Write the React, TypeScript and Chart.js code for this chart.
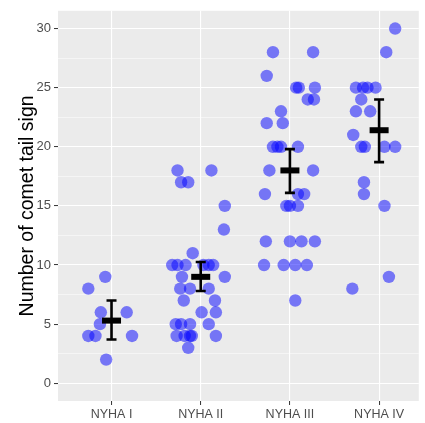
import React, { useEffect, useRef } from "react";
import { Chart, registerables } from "chart.js";

Chart.register(...registerables);

const categories = ["NYHA I", "NYHA II", "NYHA III", "NYHA IV"];

const nyha1Values = [9, 8, 6, 6, 5, 4, 4, 4, 2];
const nyha1Jitter = [-0.07, -0.26, -0.12, 0.17, -0.13, -0.26, -0.18, 0.23, -0.06];

const nyha2Values = [18, 18, 17, 17, 15, 13, 11, 10, 10, 10, 10, 10, 10, 9, 9, 8, 8, 8, 7, 7, 6, 6, 5, 5, 5, 5, 4, 4, 4, 4, 4, 3];
const nyha2Jitter = [-0.26, 0.12, -0.22, -0.14, 0.27, 0.26, -0.09, -0.32, -0.26, -0.17, 0.03, 0.09, 0.14, -0.21, 0.27, -0.23, -0.12, 0.09, -0.19, 0.16, 0.01, 0.17, -0.28, -0.22, -0.12, 0.09, -0.27, -0.18, -0.12, -0.1, 0.17, -0.14];

const nyha3Values = [28, 28, 26, 25, 25, 25, 24, 24, 23, 22, 22, 20, 20, 20, 20, 18, 18, 16, 16, 16, 15, 15, 15, 12, 12, 12, 12, 10, 10, 10, 10, 7];
const nyha3Jitter = [-0.19, 0.26, -0.26, 0.07, 0.1, 0.28, 0.2, 0.27, -0.1, -0.26, -0.08, -0.19, -0.14, -0.1, 0.09, -0.23, 0.26, -0.28, 0.09, 0.16, -0.04, 0.0, 0.09, -0.27, 0.0, 0.13, 0.28, -0.29, -0.07, 0.06, 0.19, 0.06];

const nyha4Values = [30, 28, 25, 25, 25, 25, 24, 23, 23, 21, 20, 20, 20, 20, 17, 16, 15, 9, 8];
const nyha4Jitter = [0.18, 0.08, -0.26, -0.18, -0.13, -0.04, -0.2, -0.26, -0.1, -0.29, -0.2, -0.16, 0.06, 0.18, -0.17, -0.17, 0.06, 0.11, -0.3];

const groupMeans = [5.3, 9.0, 18.0, 21.4];
const groupLower = [3.7, 7.8, 16.1, 18.7];
const groupUpper = [7.0, 10.25, 19.8, 24.0];

const yTickValues = [0, 2.5, 5, 7.5, 10, 12.5, 15, 17.5, 20, 22.5, 25, 27.5, 30];

const groupValues = [nyha1Values, nyha2Values, nyha3Values, nyha4Values];
const groupJitter = [nyha1Jitter, nyha2Jitter, nyha3Jitter, nyha4Jitter];

const FONT = "'Liberation Sans', Arial, sans-serif";

const panelBg = {
  id: "panelBg",
  beforeDraw(chart: any) {
    const { ctx, chartArea } = chart;
    ctx.save();
    ctx.fillStyle = "#EBEBEB";
    ctx.fillRect(chartArea.left, chartArea.top, chartArea.right - chartArea.left, chartArea.bottom - chartArea.top);
    ctx.restore();
  },
};

const meanErr = {
  id: "meanErr",
  afterDatasetsDraw(chart: any) {
    const { ctx } = chart;
    const xs = chart.scales.x;
    const ys = chart.scales.y;
    ctx.save();
    ctx.strokeStyle = "#000";
    ctx.fillStyle = "#000";
    groupMeans.forEach((m, i) => {
      const x = xs.getPixelForValue(i + 1);
      const yU = ys.getPixelForValue(groupUpper[i]);
      const yL = ys.getPixelForValue(groupLower[i]);
      const yM = ys.getPixelForValue(m);
      ctx.lineWidth = 2.6;
      ctx.beginPath();
      ctx.moveTo(x, yU);
      ctx.lineTo(x, yL);
      ctx.moveTo(x - 5, yU);
      ctx.lineTo(x + 5, yU);
      ctx.moveTo(x - 5, yL);
      ctx.lineTo(x + 5, yL);
      ctx.stroke();
      ctx.fillRect(x - 9.5, yM - 3, 19, 6);
    });
    ctx.restore();
  },
};

export default function App() {
  const ref = useRef<HTMLCanvasElement | null>(null);
  useEffect(() => {
    if (!ref.current) return;
    const points: { x: number; y: number }[] = [];
    groupValues.forEach((vals, gi) => {
      vals.forEach((v, j) => points.push({ x: gi + 1 + groupJitter[gi][j], y: v }));
    });
    const chart = new Chart(ref.current, {
      type: "scatter",
      data: {
        datasets: [
          {
            data: points,
            backgroundColor: "rgba(0,0,255,0.5)",
            borderWidth: 0,
            pointRadius: 6.2,
            pointHoverRadius: 6.2,
          },
        ],
      },
      options: {
        animation: false,
        responsive: false,
        events: [],
        layout: { padding: { top: 7, right: 3, left: 0, bottom: 0 } },
        plugins: { legend: { display: false }, tooltip: { enabled: false } },
        scales: {
          x: {
            type: "linear",
            min: 0.4,
            max: 4.445,
            afterBuildTicks: (s: any) => {
              s.ticks = categories.map((_, i) => ({ value: i + 1 }));
            },
            afterFit: (s: any) => {
              s.height = 22;
            },
            ticks: {
              autoSkip: false,
              maxRotation: 0,
              padding: 2,
              color: "#4D4D4D",
              font: { family: FONT, size: 12.5 },
              callback: (v: any) => categories[Math.round(Number(v)) - 1] ?? "",
            },
            grid: {
              color: "#FFFFFF",
              lineWidth: 1.1,
              tickColor: "#333333",
              tickLength: 4,
              tickWidth: 1,
            },
            border: { display: false },
          },
          y: {
            type: "linear",
            min: -1.5,
            max: 31.5,
            afterBuildTicks: (s: any) => {
              s.ticks = yTickValues.map((v) => ({ value: v }));
            },
            afterFit: (s: any) => {
              s.width = 58;
            },
            ticks: {
              autoSkip: false,
              padding: 3,
              color: "#4D4D4D",
              font: { family: FONT, size: 13 },
              callback: (v: any) => (Number(v) % 5 === 0 ? String(v) : ""),
            },
            grid: {
              color: "#FFFFFF",
              lineWidth: (c: any) => (c.tick && c.tick.value % 5 === 0 ? 1.1 : 0.5),
              tickColor: (c: any) => (c.tick && c.tick.value % 5 === 0 ? "#333333" : "rgba(0,0,0,0)"),
              tickLength: 4,
              tickWidth: 1,
            },
            border: { display: false },
            title: {
              display: true,
              text: "Number of comet tail sign",
              color: "#000000",
              font: { family: FONT, size: 19.5 },
              padding: { top: 16, bottom: 0 },
            },
          },
        },
      },
      plugins: [panelBg, meanErr],
    });
    return () => chart.destroy();
  }, []);
  return (
    <div style={{ position: "absolute", left: 0, top: 0, width: 425, height: 423, background: "#fff" }}>
      <canvas ref={ref} width={425} height={423} style={{ display: "block" }} />
    </div>
  );
}
